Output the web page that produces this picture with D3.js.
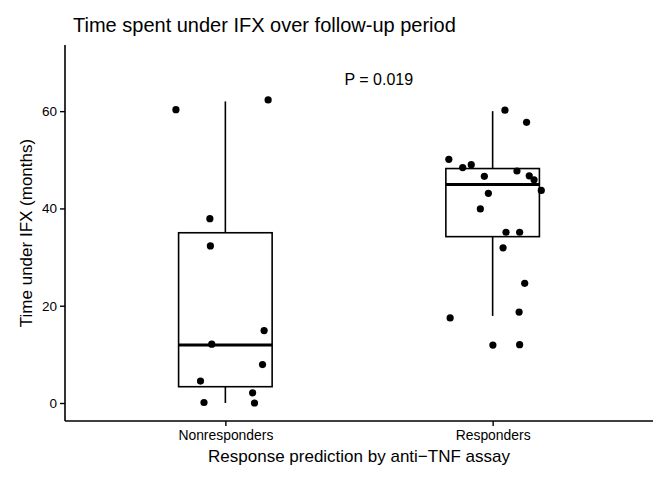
<!DOCTYPE html>
<html>
<head>
<meta charset="utf-8">
<script src="https://cdn.jsdelivr.net/npm/d3@7/dist/d3.min.js"></script>
<style>
  html, body { margin: 0; padding: 0; background: #fff; }
  text { font-family: "Liberation Sans", Arial, Helvetica, sans-serif; }
</style>
</head>
<body>
<svg id="chart" width="670" height="480"></svg>
<script>
// ---- Data ----
const categories = ["Nonresponders", "Responders"];

const nonresponderValues = [60.3, 62.3, 37.9, 32.3, 14.9, 12.1, 7.9, 4.5, 2.1, 0.1, 0.0];
const nonresponderJitter = [-0.185, 0.160, -0.058, -0.056, 0.145, -0.051, 0.139, -0.093, 0.102, -0.080, 0.109];

const responderValues = [60.2, 57.7, 50.1, 48.4, 49.0, 47.7, 46.6, 46.7, 45.9, 43.7, 43.1, 39.9, 35.1, 35.1, 31.9, 24.6, 18.7, 17.5, 11.9, 12.0];
const responderJitter = [0.046, 0.127, -0.164, -0.112, -0.080, 0.091, -0.031, 0.137, 0.155, 0.182, -0.016, -0.046, 0.050, 0.101, 0.039, 0.120, 0.099, -0.159, 0.001, 0.101];

// box statistics per category: [lower whisker, Q1, median, Q3, upper whisker]
const boxLower  = [0.0, 17.9];
const boxQ1     = [3.35, 34.2];
const boxMedian = [11.9, 44.9];
const boxQ3     = [35.0, 48.2];
const boxUpper  = [62.0, 60.0];

const yTicks = [0, 20, 40, 60];
const titleText = "Time spent under IFX over follow-up period";
const yTitle = "Time under IFX (months)";
const xTitle = "Response prediction by anti\u2212TNF assay";
const pLabel = "P = 0.019";

(function () {
// ---- Layout ----
const svg = d3.select("#chart");
const mLeft = 65, mRight = 653, mTop = 45, mBottom = 421;

const x = d3.scaleLinear().domain([0.4, categories.length + 0.6]).range([mLeft, mRight]);
const y = d3.scaleLinear().domain([-3.7, 73.6]).range([mBottom, mTop]);
const boxWidth = 0.35;

const series = [
  { values: nonresponderValues, jitter: nonresponderJitter },
  { values: responderValues, jitter: responderJitter }
];

// Boxes
categories.forEach((c, i) => {
  const cx = i + 1;
  const g = svg.append("g");
  g.append("line")
    .attr("x1", x(cx)).attr("x2", x(cx))
    .attr("y1", y(boxQ3[i])).attr("y2", y(boxUpper[i]))
    .attr("stroke", "#000").attr("stroke-width", 1.6);
  g.append("line")
    .attr("x1", x(cx)).attr("x2", x(cx))
    .attr("y1", y(boxQ1[i])).attr("y2", y(boxLower[i]))
    .attr("stroke", "#000").attr("stroke-width", 1.6);
  g.append("rect")
    .attr("x", x(cx - boxWidth / 2))
    .attr("width", x(cx + boxWidth / 2) - x(cx - boxWidth / 2))
    .attr("y", y(boxQ3[i]))
    .attr("height", y(boxQ1[i]) - y(boxQ3[i]))
    .attr("fill", "#fff").attr("stroke", "#000").attr("stroke-width", 1.6);
  g.append("line")
    .attr("x1", x(cx - boxWidth / 2)).attr("x2", x(cx + boxWidth / 2))
    .attr("y1", y(boxMedian[i])).attr("y2", y(boxMedian[i]))
    .attr("stroke", "#000").attr("stroke-width", 3);
});

// Points
series.forEach((s, i) => {
  svg.append("g").selectAll("circle")
    .data(s.values)
    .join("circle")
    .attr("cx", (d, j) => x(i + 1 + s.jitter[j]))
    .attr("cy", d => y(d))
    .attr("r", 3.6)
    .attr("fill", "#000");
});

// Y axis
const yAxis = svg.append("g")
  .attr("transform", `translate(${mLeft},0)`)
  .call(d3.axisLeft(y).tickValues(yTicks).tickSize(5).tickPadding(3).tickSizeOuter(0));
yAxis.select(".domain").remove();
yAxis.selectAll(".tick line").attr("stroke", "#000").attr("stroke-width", 1.4);
yAxis.selectAll(".tick text").attr("font-size", 13.5).attr("fill", "#000")
  .attr("font-family", "Liberation Sans, Arial, sans-serif");
svg.append("line")
  .attr("x1", mLeft).attr("x2", mLeft).attr("y1", mTop).attr("y2", mBottom)
  .attr("stroke", "#000").attr("stroke-width", 1.6);

// X axis
const xAxis = svg.append("g")
  .attr("transform", `translate(0,${mBottom})`)
  .call(d3.axisBottom(x).tickValues(categories.map((c, i) => i + 1))
    .tickFormat((d) => categories[d - 1]).tickSize(5).tickPadding(4).tickSizeOuter(0));
xAxis.select(".domain").remove();
xAxis.selectAll(".tick line").attr("stroke", "#000").attr("stroke-width", 1.4);
xAxis.selectAll(".tick text").attr("font-size", 13.9).attr("fill", "#000")
  .attr("font-family", "Liberation Sans, Arial, sans-serif");
svg.append("line")
  .attr("x1", mLeft).attr("x2", mRight).attr("y1", mBottom).attr("y2", mBottom)
  .attr("stroke", "#000").attr("stroke-width", 1.6);

// Titles
svg.append("text")
  .attr("x", 73).attr("y", 32)
  .attr("font-size", 20).attr("fill", "#000")
  .text(titleText);

svg.append("text")
  .attr("transform", `translate(32,${(mTop + mBottom) / 2}) rotate(-90)`)
  .attr("text-anchor", "middle")
  .attr("font-size", 17).attr("fill", "#000")
  .text(yTitle);

svg.append("text")
  .attr("x", (mLeft + mRight) / 2).attr("y", 462)
  .attr("text-anchor", "middle")
  .attr("font-size", 17).attr("fill", "#000")
  .text(xTitle);

// P-value annotation
svg.append("text")
  .attr("x", x(1.574)).attr("y", y(65.3))
  .attr("text-anchor", "middle")
  .attr("font-size", 16).attr("fill", "#000")
  .text(pLabel);
})();
</script>
</body>
</html>
